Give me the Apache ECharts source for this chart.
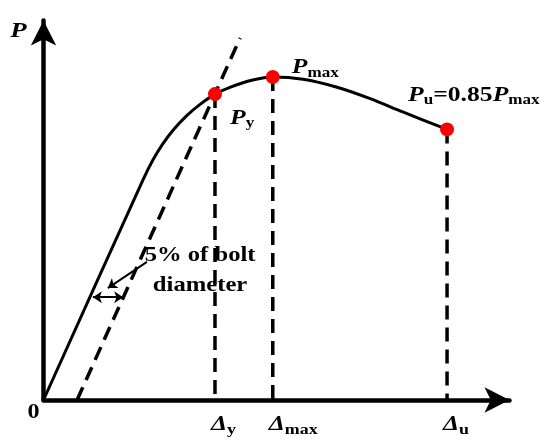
<!DOCTYPE html>
<html>
<head>
<meta charset="utf-8">
<script src="https://cdn.jsdelivr.net/npm/echarts@6/dist/echarts.min.js"></script>
<style>
  html, body { margin: 0; padding: 0; background: #fff; }
  #chart { width: 550px; height: 443px; }
</style>
</head>
<body>
<div id="chart"></div>
<script>
// ---- data (schematic load–displacement curve) ----
const axisRange = { xMin: 0, xMax: 100, yMin: 0, yMax: 100 };
const curveDisp = [0, 21.35, 23.5, 25.6, 27.8, 30.8, 33.6, 36.8, 40.0, 44.9, 49.2, 55.7, 63.0, 70.1, 77.1, 86.6];
const curveLoad = [0, 58.0, 63.3, 67.5, 71.1, 75.0, 77.9, 80.6, 82.4, 84.3, 85.1, 84.5, 82.4, 79.4, 75.9, 71.3];
const keyNames = ['y', 'max', 'u'];
const keyDisp = [36.8, 49.2, 86.6];
const keyLoad = [80.6, 85.1, 71.3];
const offsetLineDisp = [7.2, 42.2];
const offsetLoad = [0, 95.4];
const gapArrowDisp = [10.6, 17.1];
const gapArrowLoad = [27.1, 27.1];
const pointerDisp = [22.2, 13.8];
const pointerLoad = [36.4, 29.5];
const noteAnchor = [33.6, 34.3];
const noteText = ['5% of bolt', 'diameter'];

const FF = '"Liberation Serif", "Times New Roman", serif';
const rich = {
  i: { fontFamily: FF, fontWeight: 'bold', fontStyle: 'italic', fontSize: 21, lineHeight: 24, fill: '#000', color: '#000' },
  n: { fontFamily: FF, fontWeight: 'bold', fontSize: 21, lineHeight: 24, fill: '#000', color: '#000' },
  s: { fontFamily: FF, fontWeight: 'bold', fontSize: 14, lineHeight: 14, verticalAlign: 'bottom', fill: '#000', color: '#000' },
  d: { fontFamily: FF, fontWeight: 'bold', fontStyle: 'italic', fontSize: 20, lineHeight: 24, fill: '#000', color: '#000' },
  t: { fontFamily: FF, fontWeight: 'bold', fontSize: 22, lineHeight: 30, fill: '#000', color: '#000' }
};

const curveData = curveDisp.map((x, i) => [x, curveLoad[i]]);
const keyData = keyDisp.map((x, i) => [x, keyLoad[i]]);

const axisCommon = {
  type: 'value',
  axisTick: { show: false },
  axisLabel: { show: false },
  splitLine: { show: false },
  axisLine: {
    show: true,
    symbol: ['none', 'arrow'],
    symbolSize: [19, 25],
    lineStyle: { color: '#000', width: 4.5 }
  }
};

const dashStyle = { color: '#000', width: 3.5, type: [14, 8] };

const verticalSeries = keyData.map(p => ({
  type: 'line',
  data: [p, [p[0], 0]],
  symbol: 'none',
  lineStyle: dashStyle,
  z: 2,
  silent: true
}));

const option = {
  animation: false,
  backgroundColor: '#fff',
  grid: { left: 43.5, right: 40.5, top: 20.5, bottom: 43 },
  xAxis: Object.assign({}, axisCommon, { min: axisRange.xMin, max: axisRange.xMax }),
  yAxis: Object.assign({}, axisCommon, { min: axisRange.yMin, max: axisRange.yMax }),
  series: [
    {
      type: 'line',
      data: curveData,
      smooth: 0.3,
      symbol: 'none',
      lineStyle: { color: '#000', width: 3 },
      z: 3
    },
    {
      type: 'line',
      data: [[offsetLineDisp[0], offsetLoad[0]], [offsetLineDisp[1], offsetLoad[1]]],
      symbol: 'none',
      lineStyle: dashStyle,
      z: 2
    },
    ...verticalSeries,
    {
      type: 'lines',
      coordinateSystem: 'cartesian2d',
      symbol: ['arrow', 'arrow'],
      symbolSize: 9,
      lineStyle: { color: '#000', width: 2, opacity: 1 },
      data: [{ coords: [[gapArrowDisp[0], gapArrowLoad[0]], [gapArrowDisp[1], gapArrowLoad[1]]] }],
      z: 4
    },
    {
      type: 'lines',
      coordinateSystem: 'cartesian2d',
      symbol: ['none', 'arrow'],
      symbolSize: 9,
      lineStyle: { color: '#000', width: 2, opacity: 1 },
      data: [{ coords: [[pointerDisp[0], pointerLoad[0]], [pointerDisp[1], pointerLoad[1]]] }],
      z: 4
    },
    {
      type: 'scatter',
      data: keyData,
      symbolSize: 14,
      itemStyle: { color: '#ff0000', opacity: 1 },
      z: 6
    }
  ]
};

const chart = echarts.init(document.getElementById('chart'), null, { renderer: 'canvas' });
chart.setOption(option);

// ---- text annotations, anchored to data points through the grid's scales ----
const toPx = p => chart.convertToPixel({ gridIndex: 0 }, p);
function label(anchor, offset, text, align, scaleX) {
  const p = toPx(anchor);
  return {
    type: 'text',
    x: p[0] + offset[0],
    y: p[1] + offset[1],
    scaleX: scaleX,
    z: 100,
    style: { text: text, rich: rich, align: align, verticalAlign: 'middle', fill: '#000' }
  };
}
const pTexts = ['{i|P}{s|y}', '{i|P}{s|max}', '{i|P}{s|u}{n|=0.85}{i|P}{s|max}'];
const pOffsets = [[15, 24], [19, -9], [-39, -34]];
const graphics = [];
keyData.forEach((p, i) => graphics.push(label(p, pOffsets[i], pTexts[i], 'left', 1.22)));
keyDisp.forEach((x, i) => graphics.push(label([x, 0], [-4, 25], '{d|Δ}{s|' + keyNames[i] + '}', 'left', 1.28)));
graphics.push(label([axisRange.xMin, axisRange.yMin], [-10, 13], '{n|0}', 'center', 1.15));
graphics.push(label([axisRange.xMin, axisRange.yMax], [-25, 11], '{i|P}', 'center', 1.28));
graphics.push(label(noteAnchor, [0, 0], noteText.map(t => '{t|' + t + '}').join('\n'), 'center', 1.12));
chart.setOption({ graphic: graphics });
</script>
</body>
</html>
